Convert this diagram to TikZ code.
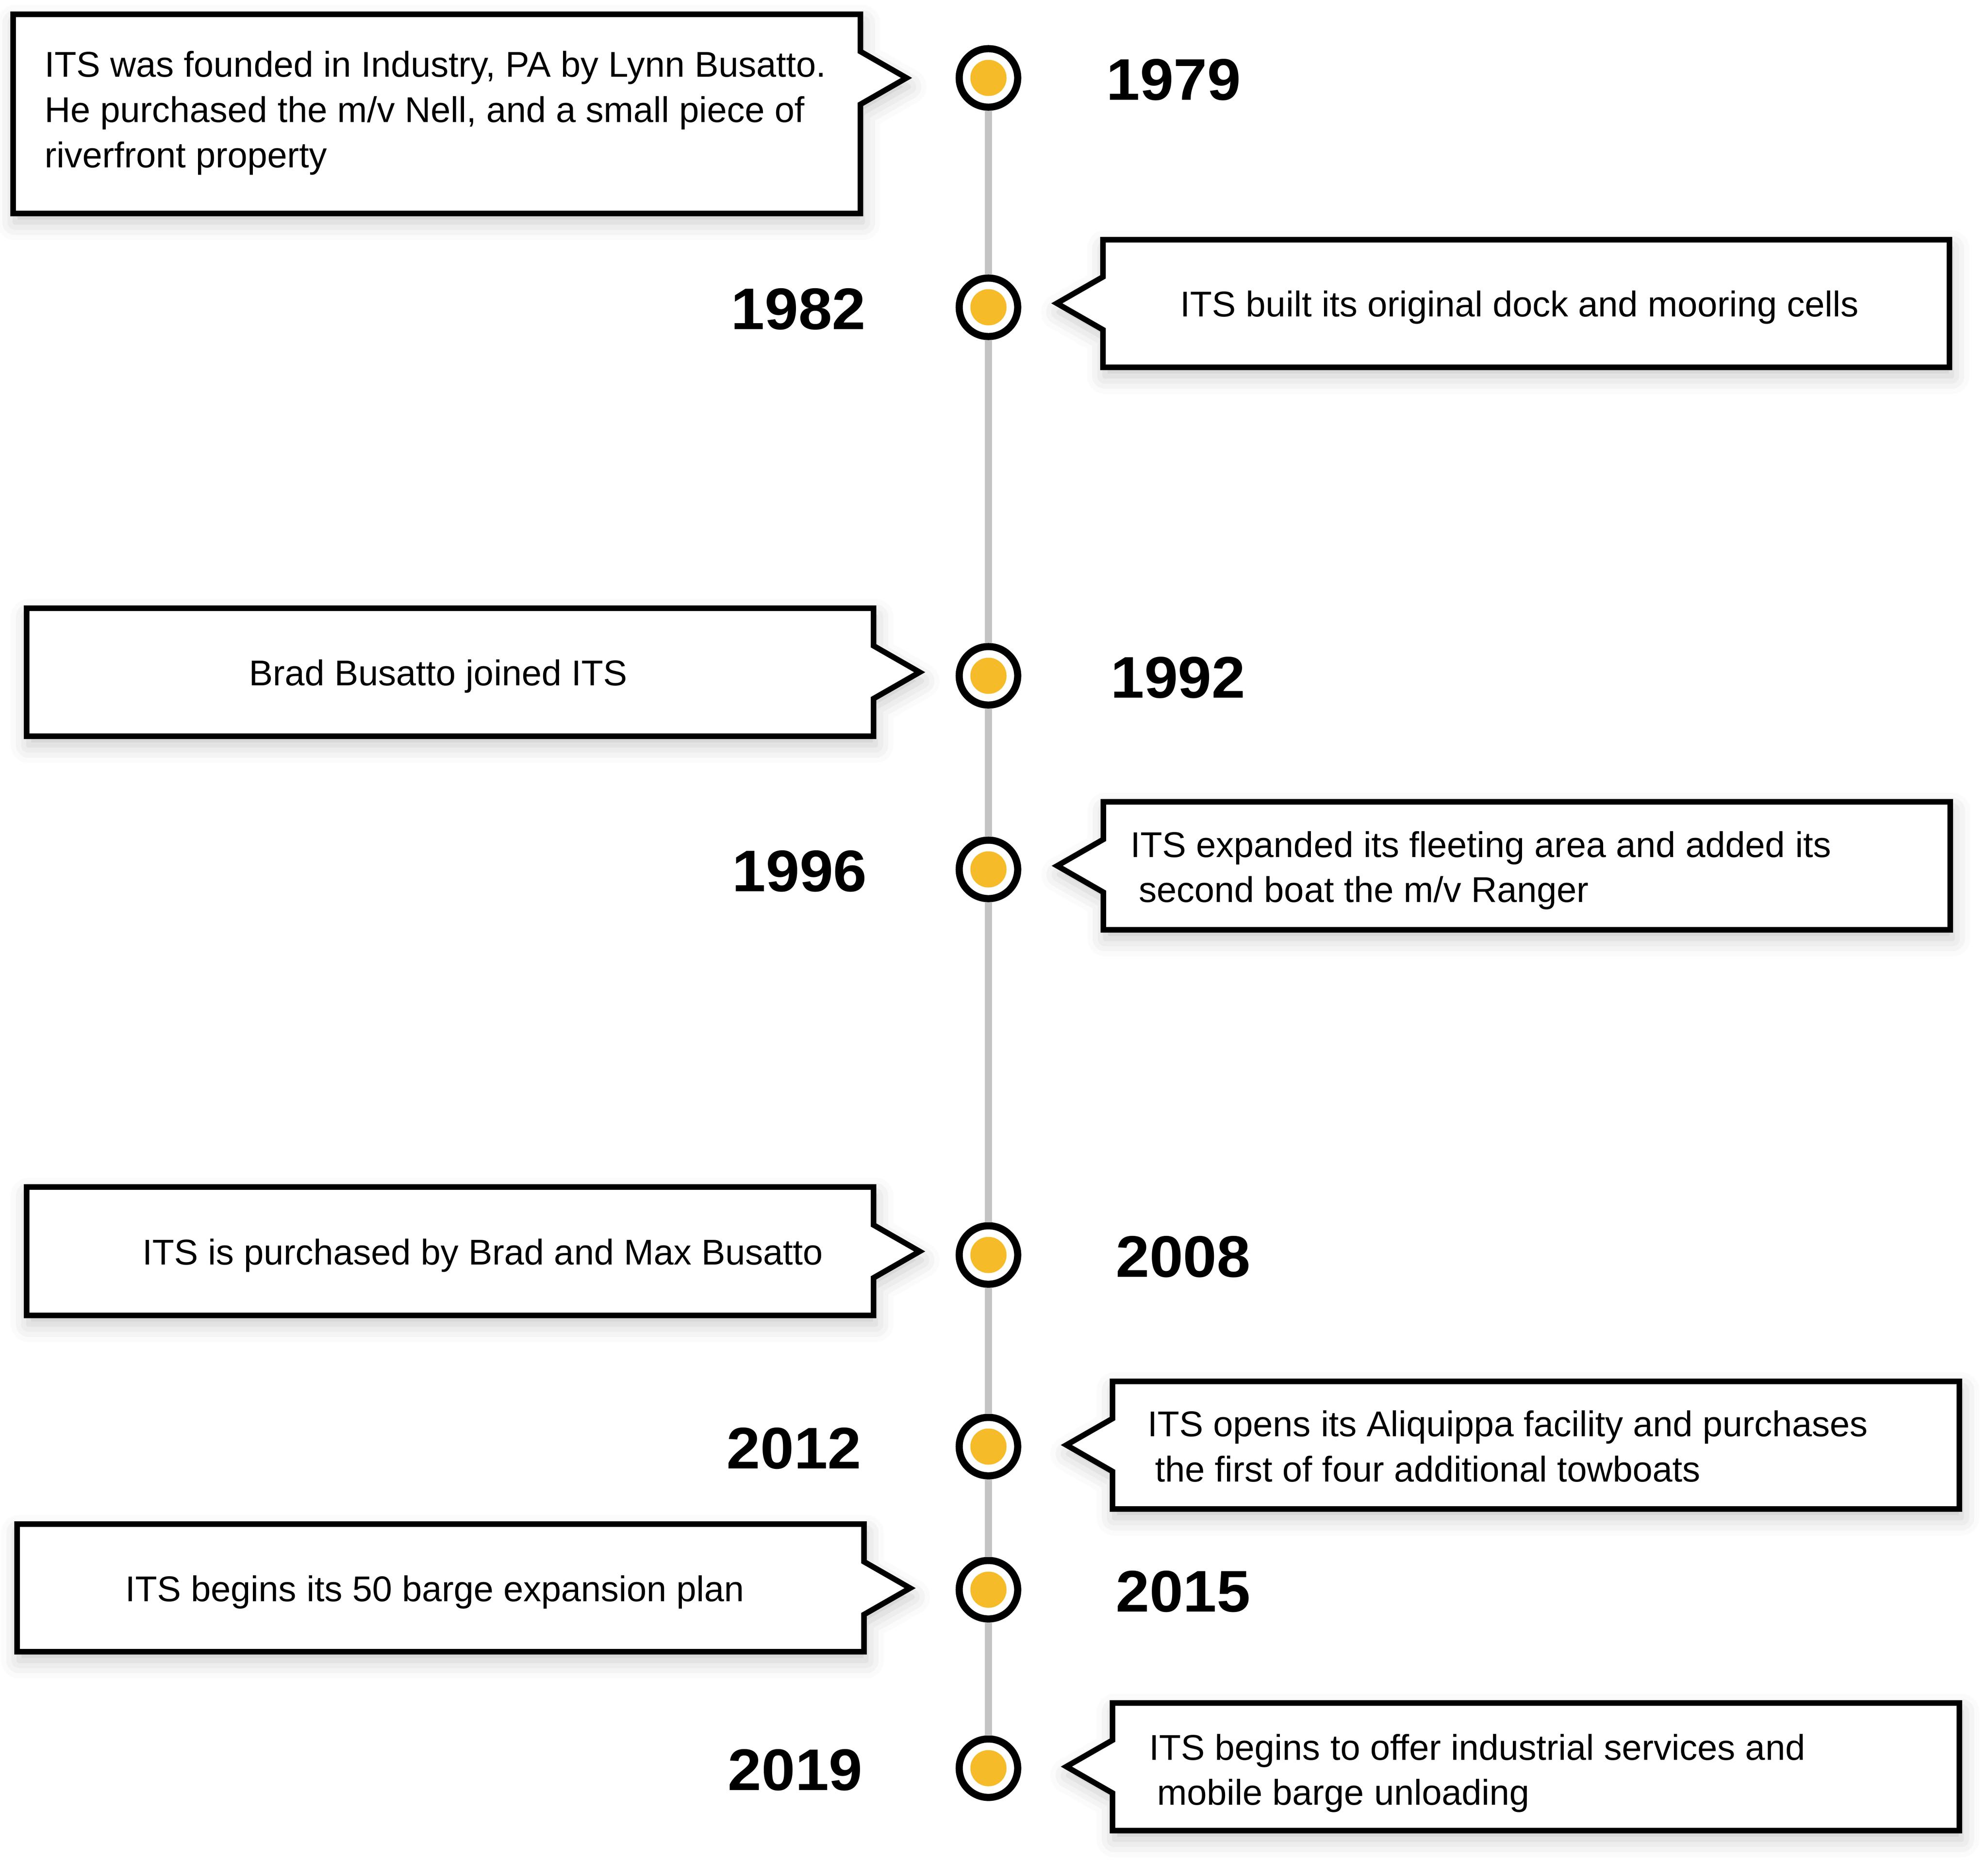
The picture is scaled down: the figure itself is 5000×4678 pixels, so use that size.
\documentclass[tikz,border=0pt]{standalone}
\usepackage{fontspec}
\setmainfont{Liberation Sans}
\newfontfamily\yearfont[FakeStretch=1.03]{Liberation Sans Bold}
\usetikzlibrary{shadows.blur}
\definecolor{dotyellow}{HTML}{F6BB28}
\definecolor{linegray}{HTML}{C4C4C4}
\begin{document}
\begin{tikzpicture}[x=0.01cm,y=-0.01cm,
  callout/.style={draw=black, line width=0.14cm, fill=white, line join=miter,
    blur shadow={shadow xshift=0.05cm, shadow yshift=-0.22cm, shadow blur radius=0.45cm, shadow opacity=22}},
  ring/.style={circle, draw=black, line width=0.18cm, fill=white, minimum size=1.47cm, inner sep=0pt, outer sep=0.09cm},
  dot/.style={fill=dotyellow},
  timeline/.style={draw=linegray, line width=0.185cm},
  yearlbl/.style={font=\fontsize{42}{48}\yearfont, inner sep=0pt},
  desc/.style={font=\fontsize{25.6}{32.4}\selectfont, inner sep=0pt},
]
\useasboundingbox (0,0) rectangle (5000,4678);

% ---- callout boxes (tip toward the timeline)
\path[callout] (33,36) -- (2164,36) -- (2164,129.5) -- (2280,196) -- (2164,262.5) -- (2164,537) -- (33,537) -- cycle;
\path[callout] (4903,603) -- (2774,603) -- (2774,696.5) -- (2658,763) -- (2774,829.5) -- (2774,924) -- (4903,924) -- cycle;
\path[callout] (67,1530) -- (2197,1530) -- (2197,1624.5) -- (2313,1691) -- (2197,1757.5) -- (2197,1852) -- (67,1852) -- cycle;
\path[callout] (4905,2017) -- (2775,2017) -- (2775,2111.5) -- (2659,2178) -- (2775,2244.5) -- (2775,2339) -- (4905,2339) -- cycle;
\path[callout] (67,2986) -- (2197,2986) -- (2197,3081.5) -- (2313,3148) -- (2197,3214.5) -- (2197,3309) -- (67,3309) -- cycle;
\path[callout] (4928,3475) -- (2798,3475) -- (2798,3568.5) -- (2682,3635) -- (2798,3701.5) -- (2798,3796) -- (4928,3796) -- cycle;
\path[callout] (43,3834) -- (2173,3834) -- (2173,3928.5) -- (2289,3995) -- (2173,4061.5) -- (2173,4155) -- (43,4155) -- cycle;
\path[callout] (4928,4284) -- (2798,4284) -- (2798,4377.5) -- (2682,4444) -- (2798,4510.5) -- (2798,4605) -- (4928,4605) -- cycle;

% ---- timeline markers
\node[ring] (c1979) at (2486,196) {};
\node[ring] (c1982) at (2486,773) {};
\node[ring] (c1992) at (2486,1700) {};
\node[ring] (c1996) at (2486,2187) {};
\node[ring] (c2008) at (2486,3157) {};
\node[ring] (c2012) at (2486,3639) {};
\node[ring] (c2015) at (2486,3999) {};
\node[ring] (c2019) at (2486,4448) {};
\foreach \c in {c1979,c1982,c1992,c1996,c2008,c2012,c2015,c2019}
  \fill[dot] (\c.center) circle[radius=0.455cm];

\draw[timeline] (c1979) -- (c1982);
\draw[timeline] (c1982) -- (c1992);
\draw[timeline] (c1992) -- (c1996);
\draw[timeline] (c1996) -- (c2008);
\draw[timeline] (c2008) -- (c2012);
\draw[timeline] (c2012) -- (c2015);
\draw[timeline] (c2015) -- (c2019);

% ---- years
\node[yearlbl, anchor=base west] (y1979) at (2782,251) {1979};
\node[yearlbl, anchor=base east] (y1982) at (2178,828) {1982};
\node[yearlbl, anchor=base west] (y1992) at (2793,1755) {1992};
\node[yearlbl, anchor=base east] (y1996) at (2181,2242) {1996};
\node[yearlbl, anchor=base west] (y2008) at (2806,3212) {2008};
\node[yearlbl, anchor=base east] (y2012) at (2167,3694) {2012};
\node[yearlbl, anchor=base east] (y2019) at (2170,4503) {2019};
\node[yearlbl, anchor=base west] (y2015) at (2806,4054) {2015};

% ---- descriptions
\node[desc, anchor=base west] (t1a) at (112,193) {ITS was founded in Industry, PA by Lynn Busatto.};
\node[desc, anchor=base west] (t1b) at (112,307) {He purchased the m/v Nell, and a small piece of};
\node[desc, anchor=base west] (t1c) at (112,421) {riverfront property};
\node[desc, anchor=base] (t2) at (3822,796) {ITS built its original dock and mooring cells};
\node[desc, anchor=base] (t3) at (1102,1724) {Brad Busatto joined ITS};
\node[desc, anchor=base west] (t4a) at (2843,2156) {ITS expanded its fleeting area and added its};
\node[desc, anchor=base west] (t4b) at (2864,2269) {second boat the m/v Ranger};
\node[desc, anchor=base] (t5) at (1214,3181) {ITS is purchased by Brad and Max Busatto};
\node[desc, anchor=base west] (t6a) at (2886,3613) {ITS opens its Aliquippa facility and purchases};
\node[desc, anchor=base west] (t6b) at (2905,3727) {the first of four additional towboats};
\node[desc, anchor=base] (t7) at (1094,4028) {ITS begins its 50 barge expansion plan};
\node[desc, anchor=base west] (t8a) at (2890,4427) {ITS begins to offer industrial services and};
\node[desc, anchor=base west] (t8b) at (2910,4540) {mobile barge unloading};
\end{tikzpicture}
\end{document}
